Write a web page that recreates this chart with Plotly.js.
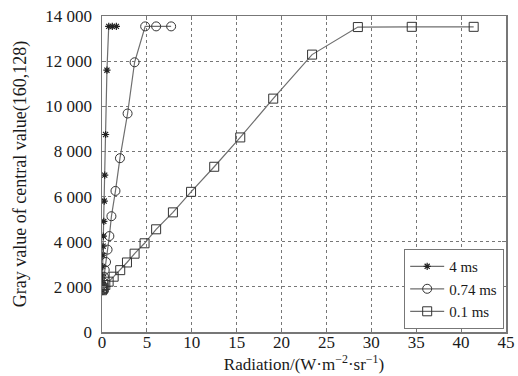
<!DOCTYPE html>
<html>
<head>
<meta charset="utf-8">
<script src="https://cdn.plot.ly/plotly-3.0.1.min.js"></script>
<style>html,body{margin:0;padding:0;background:#fff;}#chart{width:518px;height:376px;}</style>
</head>
<body>
<div id="chart"></div>
<script>
// 4 ms series
const x4 = [0, 0.02, 0.04, 0.06, 0.08, 0.1, 0.12, 0.15, 0.2, 0.25, 0.3, 0.4, 0.55, 0.75, 1.15, 1.6];
const y4 = [1850, 2000, 2200, 2500, 2900, 3400, 3800, 4250, 4900, 5800, 6950, 8750, 11600, 13540, 13540, 13540];
// 0.74 ms series
const x074 = [0, 0.08, 0.15, 0.22, 0.3, 0.45, 0.62, 0.82, 1.05, 1.5, 2.0, 2.85, 3.63, 4.81, 6.03, 7.7];
const y074 = [1850, 2000, 2200, 2450, 2750, 3100, 3650, 4250, 5130, 6250, 7700, 9680, 11950, 13540, 13540, 13540];
// 0.1 ms series
const x01 = [0, 0.1, 0.2, 0.37, 0.74, 1.3, 2.03, 2.78, 3.63, 4.74, 6.03, 7.9, 9.92, 12.5, 15.4, 19.07, 23.4, 28.5, 34.5, 41.4];
const y01 = [1850, 1900, 1960, 2080, 2230, 2450, 2740, 3080, 3470, 3930, 4550, 5300, 6210, 7320, 8620, 10340, 12290, 13510, 13520, 13520];
const names = ['4 ms', '0.74 ms', '0.1 ms'];
const yTickVals = [0, 2000, 4000, 6000, 8000, 10000, 12000, 14000];
const yTickText = ['0', '2 000', '4 000', '6 000', '8 000', '10 000', '12 000', '14 000'];
const xTickVals = [0, 5, 10, 15, 20, 25, 30, 35, 40, 45];

const FONT = 'Liberation Serif, Times New Roman, serif';
const lineStyle = {color: '#6e6e6e', width: 1.2};
const traces = [
  {x: x4, y: y4, name: names[0], mode: 'lines+markers', line: lineStyle,
   marker: {symbol: 'asterisk-open', size: 6, color: '#222', line: {color: '#222', width: 1.2}}},
  {x: x074, y: y074, name: names[1], mode: 'lines+markers', line: lineStyle,
   marker: {symbol: 'circle-open', size: 9, color: '#333', line: {color: '#333', width: 1}}},
  {x: x01, y: y01, name: names[2], mode: 'lines+markers', line: lineStyle,
   marker: {symbol: 'square-open', size: 9, color: '#333', line: {color: '#333', width: 1}}}
];

const axisCommon = {
  showline: true, mirror: 'ticks', linecolor: '#777', linewidth: 1.5,
  showgrid: true, gridcolor: '#777', griddash: 'dot', gridwidth: 1,
  zeroline: false, ticks: 'inside', ticklen: 4, tickcolor: '#777',
  tickfont: {family: FONT, size: 17, color: '#1a1a1a'}
};

const layout = {
  width: 518, height: 376,
  margin: {l: 102, r: 12, t: 16, b: 44},
  paper_bgcolor: '#fff', plot_bgcolor: '#fff',
  font: {family: FONT, color: '#1a1a1a'},
  showlegend: true,
  legend: {
    x: 0.995, y: 0.01, xanchor: 'right', yanchor: 'bottom',
    bordercolor: '#777', borderwidth: 1.2, bgcolor: '#fff',
    font: {family: FONT, size: 15, color: '#1a1a1a'},
    tracegroupgap: 0, itemwidth: 34
  },
  xaxis: Object.assign({}, axisCommon, {
    range: [0, 45], tickvals: xTickVals, ticktext: xTickVals.map(String),
    ticklabelstandoff: -6,
    title: {text: 'Radiation/(W\u00b7m<sup>\u22122</sup>\u00b7sr<sup>\u22121</sup>)', standoff: 5,
            font: {family: FONT, size: 17, color: '#1a1a1a'}}
  }),
  yaxis: Object.assign({}, axisCommon, {
    range: [0, 14000], tickvals: yTickVals, ticktext: yTickText,
    ticklabelstandoff: 5,
    title: {text: 'Gray value of central value(160,128)', standoff: 14,
            font: {family: FONT, size: 18, color: '#1a1a1a'}}
  })
};

Plotly.newPlot('chart', traces, layout, {displayModeBar: false, staticPlot: true});
</script>
</body>
</html>
